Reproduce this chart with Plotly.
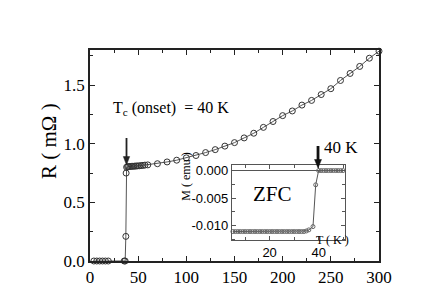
import plotly.graph_objects as go

# Main R(T) data
T_main = [4, 7, 10, 13, 16, 19, 35.5, 36.5, 37.2, 37.5,
          38, 39, 40, 41.5, 43, 44.5, 46, 47.5, 49, 51, 53, 55, 57,
          60, 70, 80, 90, 100, 110, 120, 130, 140, 150, 160, 170, 180, 190,
          200, 210, 220, 230, 240, 250, 260, 270, 280, 290, 300]
R_main = [0, 0, 0, 0, 0, 0, 0, 0, 0.21, 0.75,
          0.80, 0.805, 0.805, 0.806, 0.807, 0.808, 0.809, 0.81, 0.811, 0.812, 0.814, 0.816, 0.818,
          0.82, 0.83, 0.845, 0.86, 0.88, 0.90, 0.925, 0.95, 0.98, 1.01, 1.05, 1.09, 1.14, 1.19,
          1.24, 1.28, 1.33, 1.37, 1.42, 1.47, 1.54, 1.60, 1.66, 1.73, 1.79]

# Inset M(T) ZFC data
T_inset = list(range(5, 37)) + [37.7, 38.8, 40] + list(range(41, 51))
M_inset = [-0.0111] * 30 + [-0.0110, -0.0108] + [-0.0102, -0.0026, 0.0] + [0.0] * 10

x_ticks = [0, 50, 100, 150, 200, 250, 300]
y_ticks = [0.0, 0.5, 1.0, 1.5]
y_ticklabels = ["0.0", "0.5", "1.0", "1.5"]
inset_xticks = [20, 40]
inset_yticks = [0.0, -0.005, -0.010]
inset_yticklabels = ["0.000", "-0.005", "-0.010"]

SERIF = '"Liberation Serif", "Times New Roman", Times, serif'
SANS = '"Liberation Sans", Arial, sans-serif'
AX = "#222"

fig = go.Figure()
fig.add_trace(go.Scatter(
    x=T_main, y=R_main, mode="lines+markers", cliponaxis=False,
    line=dict(color="#555", width=1),
    marker=dict(symbol="circle-open", size=6, color="#333", line=dict(width=1, color="#333")),
    xaxis="x", yaxis="y", showlegend=False))
fig.add_trace(go.Scatter(
    x=T_inset, y=M_inset, mode="lines+markers", cliponaxis=False,
    line=dict(color="#555", width=1),
    marker=dict(symbol="circle-open", size=4, color="#666", line=dict(width=1, color="#666")),
    xaxis="x2", yaxis="y2", showlegend=False))

common = dict(showline=True, linecolor=AX, linewidth=1.5, mirror="allticks",
              ticks="inside", ticklen=5, tickcolor=AX, showgrid=False, zeroline=False)


def arrow(x, y_top, y_tip, head_h, head_w, width, color):
    return [
        dict(type="line", xref="paper", yref="paper", x0=x, x1=x, y0=y_top, y1=y_tip + head_h * 0.8,
             line=dict(color=color, width=width)),
        dict(type="path", xref="paper", yref="paper",
             path=f"M {x - head_w} {y_tip + head_h} L {x + head_w} {y_tip + head_h} L {x} {y_tip} Z",
             fillcolor=color, line=dict(color=color, width=0.5)),
    ]


shapes = arrow(0.1263, 0.583, 0.455, 0.040, 0.011, 1.8, "#222") + \
         arrow(0.789, 0.545, 0.441, 0.040, 0.012, 2.8, "#111")

fig.update_layout(
    width=436, height=308,
    margin=dict(l=82, r=65, t=42, b=55),
    plot_bgcolor="white", paper_bgcolor="white",
    shapes=shapes,
    xaxis=dict(range=[0, 300], tickvals=x_ticks,
               tickfont=dict(family=SERIF, size=17, color="black"),
               minor=dict(dtick=25, ticks="inside", ticklen=3, tickcolor=AX),
               **common),
    yaxis=dict(range=[0, 1.8], tickvals=y_ticks, ticktext=y_ticklabels,
               tickfont=dict(family=SERIF, size=17, color="black"),
               minor=dict(dtick=0.25, ticks="inside", ticklen=3, tickcolor=AX),
               **common),
    xaxis2=dict(domain=[0.491, 0.881], anchor="y2", range=[4.6, 50.6],
                tickvals=inset_xticks, tickfont=dict(family=SANS, size=13, color="black"),
                minor=dict(dtick=10, ticks="inside", ticklen=3, tickcolor="#555"),
                showline=True, linecolor="#555", linewidth=1, mirror="allticks",
                ticks="inside", ticklen=4, tickcolor="#555", showgrid=False, zeroline=False),
    yaxis2=dict(domain=[0.098, 0.456], anchor="x2", range=[-0.0127, 0.00105],
                tickvals=inset_yticks, ticktext=inset_yticklabels,
                tickfont=dict(family=SANS, size=13, color="black"),
                minor=dict(dtick=0.0025, ticks="inside", ticklen=3, tickcolor="#555"),
                showline=True, linecolor="#555", linewidth=1, mirror="allticks",
                ticks="inside", ticklen=4, tickcolor="#555", showgrid=False,
                zeroline=True, zerolinecolor="#555", zerolinewidth=1),
    annotations=[
        dict(text="R ( mΩ )", xref="paper", yref="paper", x=-0.19, y=0.569,
             textangle=-90, showarrow=False, font=dict(family=SERIF, size=21, color="black")),
        dict(text="T<sub>c</sub> (onset)&nbsp; = 40 K", xref="paper", yref="paper",
             x=0.0727, y=0.725, xanchor="left", yanchor="middle", showarrow=False,
             font=dict(family=SERIF, size=16, color="black")),
        dict(text="ZFC", xref="paper", yref="paper", x=0.633, y=0.251, showarrow=False,
             font=dict(family=SERIF, size=21, color="black")),
        dict(text="40 K", xref="paper", yref="paper", x=0.803, y=0.536, xanchor="left",
             showarrow=False, font=dict(family=SERIF, size=17, color="black")),
        dict(text="M ( emu )", xref="paper", yref="paper", x=0.30, y=0.275, textangle=-90,
             showarrow=False, font=dict(family=SERIF, size=12, color="black")),
        dict(text="T ( K )", xref="paper", yref="paper", x=0.903, y=0.057, showarrow=False,
             font=dict(family=SERIF, size=12, color="black")),
    ],
)

fig.write_html("out.html")
